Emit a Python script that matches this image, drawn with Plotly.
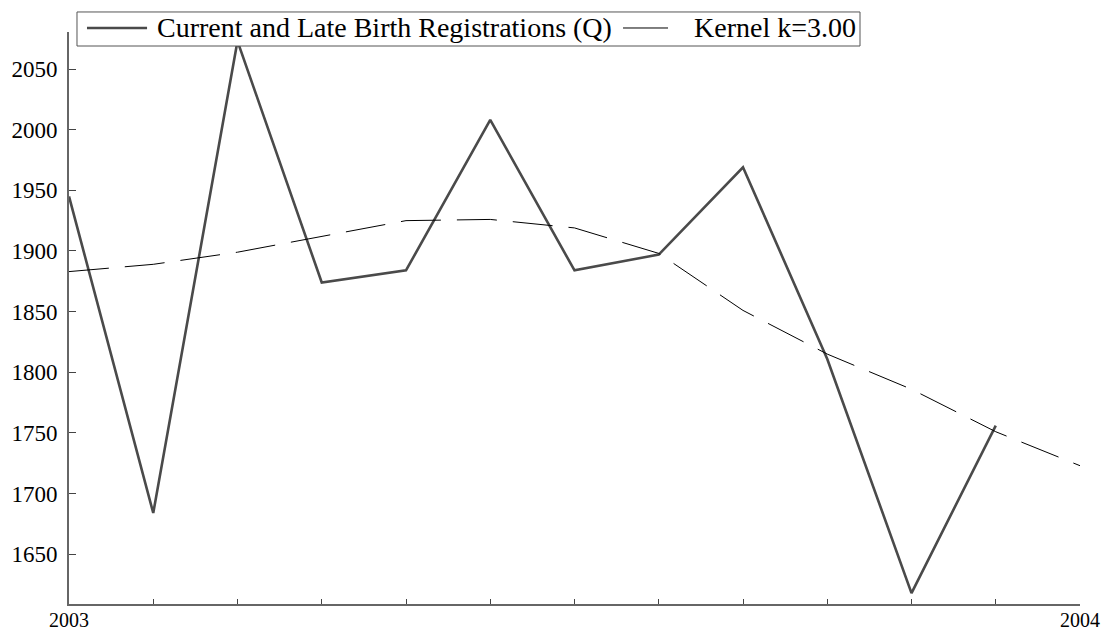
import plotly.graph_objects as go

# Monthly registrations over 2003 (month index 0..11)
months = list(range(12))
registrations = [1945, 1684, 2073, 1874, 1884, 2008, 1884, 1897, 1969, 1811, 1618, 1756]

# Kernel-smoothed trend, evaluated at each month plus the year end
kernel_months = list(range(13))
kernel_values = [1883, 1889, 1899, 1912, 1925, 1926, 1919, 1898, 1851, 1815, 1786, 1751, 1723]

series_names = ["Current and Late Birth Registrations (Q)", "Kernel k=3.00"]

year_start = 2003
year_labels = ["2003", "2004"]
y_ticks = [1650, 1700, 1750, 1800, 1850, 1900, 1950, 2000, 2050]

def to_year(m):
    return year_start + m / 12.0

serif = "Liberation Serif"
raw_color = "#4a4a4a"

fig = go.Figure()
fig.add_trace(go.Scatter(
    x=[to_year(m) for m in months], y=registrations,
    mode="lines", name=series_names[0], showlegend=False,
    line=dict(color=raw_color, width=2.6),
))
fig.add_trace(go.Scatter(
    x=[to_year(m) for m in kernel_months], y=kernel_values,
    mode="lines", name=series_names[1], showlegend=False,
    line=dict(color="#000000", width=1, dash="40px,16px"),
))

# Boxed key above the plot area, drawn in paper coordinates
legend_y = 1.007
shapes = [
    dict(type="rect", xref="paper", yref="paper", x0=0.0079, x1=0.7824, y0=0.9755, y1=1.035,
         line=dict(color="#555555", width=1), fillcolor="white", layer="above"),
    dict(type="line", xref="paper", yref="paper", x0=0.0178, x1=0.0772, y0=legend_y, y1=legend_y,
         line=dict(color=raw_color, width=2.6), layer="above"),
    dict(type="line", xref="paper", yref="paper", x0=0.548, x1=0.5925, y0=legend_y, y1=legend_y,
         line=dict(color="#000000", width=1), layer="above"),
]
annotations = [
    dict(text=series_names[0], xref="paper", yref="paper", x=0.0851, y=legend_y,
         xanchor="left", yanchor="middle", showarrow=False,
         font=dict(family=serif, size=28, color="#000000")),
    dict(text=series_names[1], xref="paper", yref="paper", x=0.6162, y=legend_y,
         xanchor="left", yanchor="middle", showarrow=False,
         font=dict(family=serif, size=28, color="#000000")),
]
# Year labels under the first and last ticks of the time axis
for i, label in enumerate(year_labels):
    annotations.append(dict(
        text=label, xref="x", yref="paper", x=year_start + i, y=-0.028,
        xanchor="center", yanchor="middle", showarrow=False,
        font=dict(family=serif, size=20, color="#000000"),
    ))

fig.update_layout(
    width=1104, height=631,
    margin=dict(l=69, r=24, t=32, b=27),
    plot_bgcolor="white", paper_bgcolor="white",
    font=dict(family=serif, color="#000000"),
    showlegend=False,
    shapes=shapes, annotations=annotations,
    xaxis=dict(
        range=[2003, 2004], automargin=False,
        tickmode="array",
        tickvals=[to_year(m) for m in kernel_months],
        showticklabels=False,
        ticks="inside", ticklen=5, tickcolor="#444444", tickwidth=1,
        showline=True, linecolor="#666666", linewidth=2,
        showgrid=False, zeroline=False,
    ),
    yaxis=dict(
        range=[1609, 2080.5], automargin=False,
        tickmode="array", tickvals=y_ticks,
        ticks="inside", ticklen=7, tickcolor="#444444", tickwidth=1,
        showline=True, linecolor="#666666", linewidth=2,
        showgrid=False, zeroline=False, ticklabelstandoff=5,
        tickfont=dict(family=serif, size=23, color="#000000"),
    ),
)

fig.write_html("out.html")
